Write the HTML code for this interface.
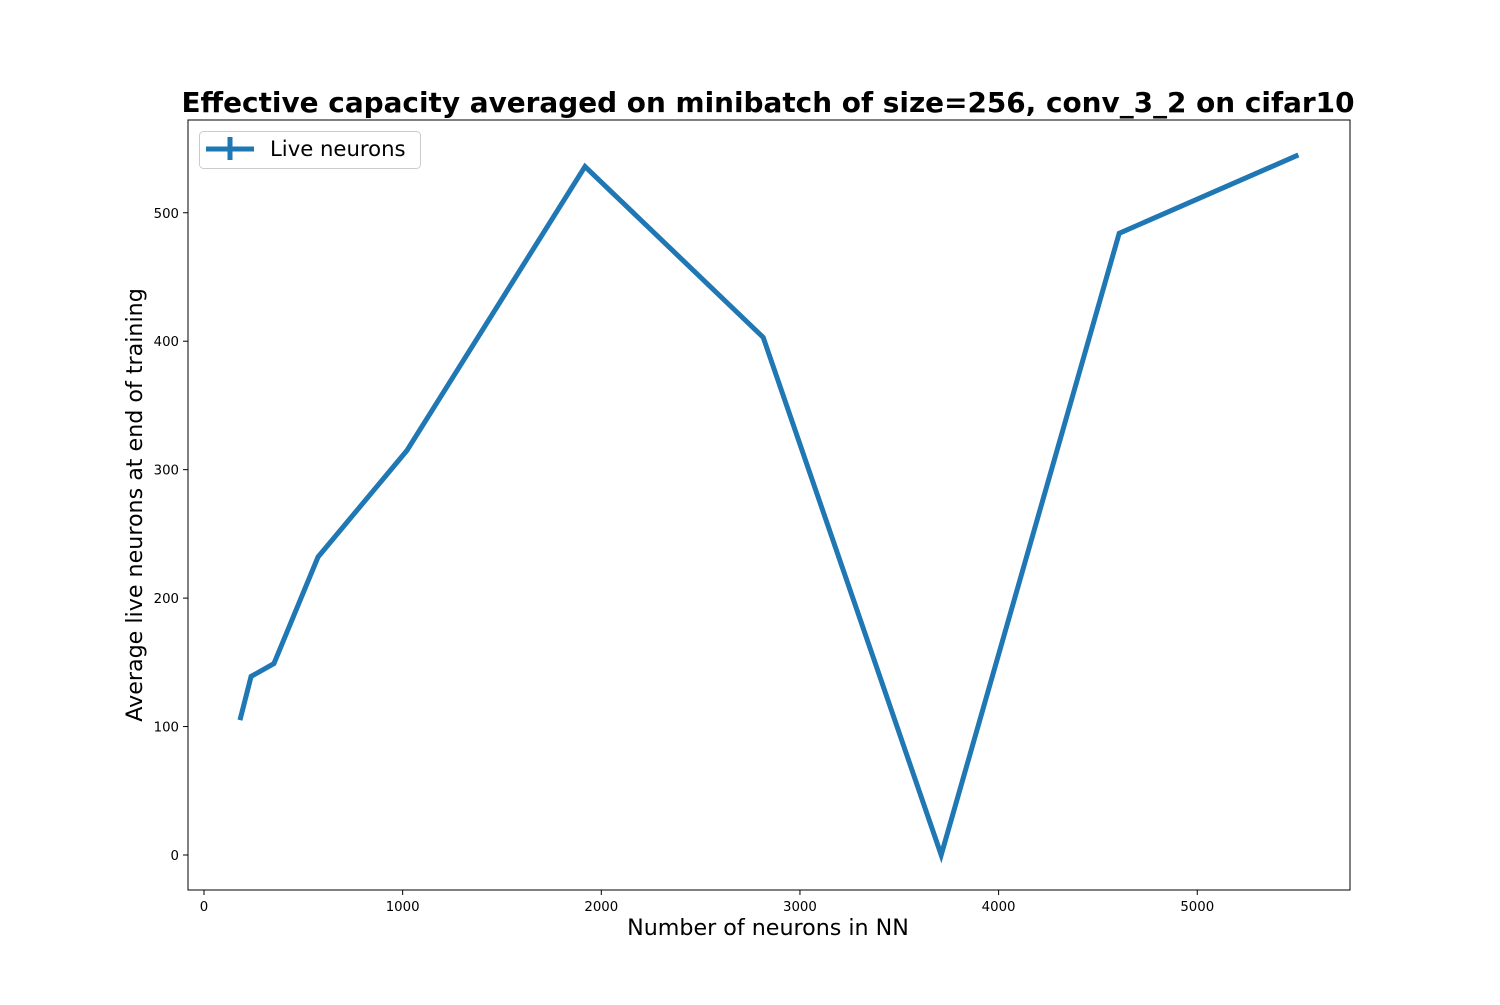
<!DOCTYPE html>
<html><head><meta charset="utf-8"><style>
body{margin:0;background:#fff}
svg text{font-family:"DejaVu Sans","Liberation Sans",sans-serif}
</style></head><body>
<svg id="chart" width="1500" height="1000" xmlns="http://www.w3.org/2000/svg">
<rect width="1500" height="1000" fill="#fff"/>
<text x="768" y="112" font-size="27.9" font-weight="bold" text-anchor="middle">Effective capacity averaged on minibatch of size=256, conv_3_2 on cifar10</text>
<g id="ticks"></g>
<polyline id="line" fill="none" stroke="#1f77b4" stroke-width="5" stroke-linejoin="miter"/>
<rect x="188" y="120" width="1162" height="770" fill="none" stroke="#000" stroke-width="1"/>
<text x="768" y="935" font-size="22.2" text-anchor="middle">Number of neurons in NN</text>
<text transform="translate(142,505) rotate(-90)" font-size="22.2" text-anchor="middle">Average live neurons at end of training</text>
<g>
<rect x="199.5" y="131.5" width="221" height="37" rx="4" fill="#fff" stroke="#ccc"/>
<line x1="206" y1="149" x2="254" y2="149" stroke="#1f77b4" stroke-width="5"/>
<line x1="230" y1="137" x2="230" y2="160" stroke="#1f77b4" stroke-width="5"/>
<text x="270" y="156" font-size="21.2">Live neurons</text>
</g>
</svg>
<script>
const xs=[181,237,352,574,1022,1918,2815,3711,4607,5509];
const ys=[105,139,149,232,315,536,403,0,484,545];
const xTicks=[0,1000,2000,3000,4000,5000];
const yTicks=[0,100,200,300,400,500];
const X=v=>204+v*0.19865;
const Y=v=>855-v*1.2845;
const ns="http://www.w3.org/2000/svg";
const line=document.getElementById('line');
line.setAttribute('points',xs.map((x,i)=>X(x)+','+Y(ys[i])).join(' '));
const g=document.getElementById('ticks');
function mk(t,a){const e=document.createElementNS(ns,t);for(const k in a)e.setAttribute(k,a[k]);g.appendChild(e);return e;}
xTicks.forEach(v=>{
 const l=mk('line',{x1:X(v),x2:X(v),y1:890,y2:895,stroke:'#000'});
 
 
 const t=mk('text',{x:X(v),y:911,'font-size':13.3,'text-anchor':'middle'});t.textContent=v;
 
 
});
yTicks.forEach(v=>{
 const l=mk('line',{x1:183,x2:188,y1:Y(v),y2:Y(v),stroke:'#000'});
 
 
 const t=mk('text',{x:179,y:Y(v)+5,'font-size':13.3,'text-anchor':'end'});t.textContent=v;
 
 
});
</script>
</body></html>
